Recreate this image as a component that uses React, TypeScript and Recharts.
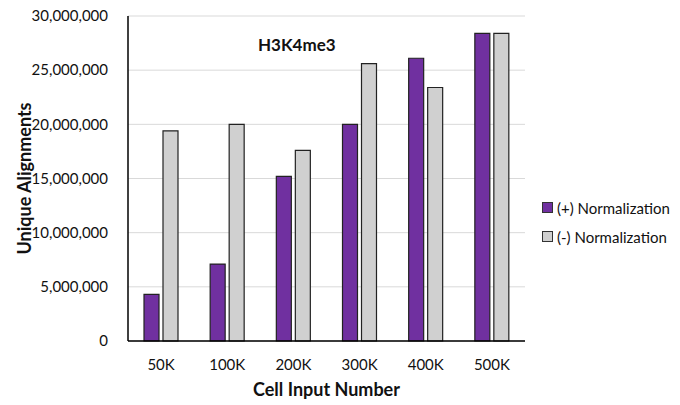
import { BarChart, Bar, XAxis, YAxis, CartesianGrid } from 'recharts';

const categories = ['50K', '100K', '200K', '300K', '400K', '500K'];
const withNorm = [4300000, 7100000, 15200000, 20000000, 26100000, 28400000];
const withoutNorm = [19400000, 20000000, 17600000, 25600000, 23400000, 28400000];
const yTicks = [0, 5000000, 10000000, 15000000, 20000000, 25000000, 30000000];

const rows = categories.map((c, i) => ({ cell: c, plus: withNorm[i], minus: withoutNorm[i] }));

const FONT = 'Lato, "Open Sans", sans-serif';
const PURPLE = '#7030a0';
const GRAY = '#d0d0d0';

const fmt = (v: number) => v.toLocaleString('en-US');

// legend drawn as plain html so it does not eat into the plot area
function LegendBox() {
  const items = [
    { label: '(+) Normalization', color: PURPLE },
    { label: '(-) Normalization', color: GRAY },
  ];
  return (
    <div style={{ position: 'absolute', left: 542, top: 193, fontFamily: FONT, fontSize: 15, color: '#111' }}>
      {items.map((it) => (
        <div key={it.label} style={{ display: 'flex', alignItems: 'center', height: 29 }}>
          <span
            style={{
              display: 'inline-block',
              width: 9,
              height: 9,
              background: it.color,
              border: '1px solid #333',
              marginRight: 4,
            }}
          />
          {it.label}
        </div>
      ))}
    </div>
  );
}

export default function App() {
  return (
    <div style={{ position: 'absolute', left: 0, top: 0, width: 680, height: 405, background: '#fff' }}>
      <BarChart
        width={680}
        height={405}
        data={rows}
        margin={{ top: 16, right: 155, bottom: 0, left: 10 }}
        barSize={15}
        barGap={4}
      >
        <CartesianGrid vertical={false} stroke="#d9d9d9" />
        <XAxis
          dataKey="cell"
          tick={{ fill: '#111', fontSize: 15, fontFamily: FONT }}
          axisLine={{ stroke: '#000', strokeWidth: 1.5 }}
          tickLine={false}
          tickMargin={12}
          height={64}
          label={{
            value: 'Cell Input Number',
            position: 'insideBottom',
            offset: 9,
            style: { fontFamily: FONT, fontSize: 18, fontWeight: 700, fill: '#111' },
          }}
        />
        <YAxis
          width={118}
          domain={[0, 30000000]}
          ticks={yTicks}
          tickFormatter={fmt}
          tick={{ fill: '#111', fontSize: 15, fontFamily: FONT }}
          axisLine={{ stroke: '#000', strokeWidth: 1.5 }}
          tickLine={false}
          tickMargin={14}
          label={{
            value: 'Unique Alignments',
            angle: -90,
            position: 'insideLeft',
            offset: 15,
            style: { fontFamily: FONT, fontSize: 18, fontWeight: 700, fill: '#111', textAnchor: 'middle' },
          }}
        />
        <Bar dataKey="plus" name="(+) Normalization" fill={PURPLE} stroke="#222" strokeWidth={1.2} isAnimationActive={false} />
        <Bar dataKey="minus" name="(-) Normalization" fill={GRAY} stroke="#222" strokeWidth={1.2} isAnimationActive={false} />
      </BarChart>
      <div
        style={{
          position: 'absolute',
          left: 258,
          top: 34,
          fontFamily: FONT,
          fontSize: 17,
          fontWeight: 700,
          color: '#111',
        }}
      >
        H3K4me3
      </div>
      <LegendBox />
    </div>
  );
}
